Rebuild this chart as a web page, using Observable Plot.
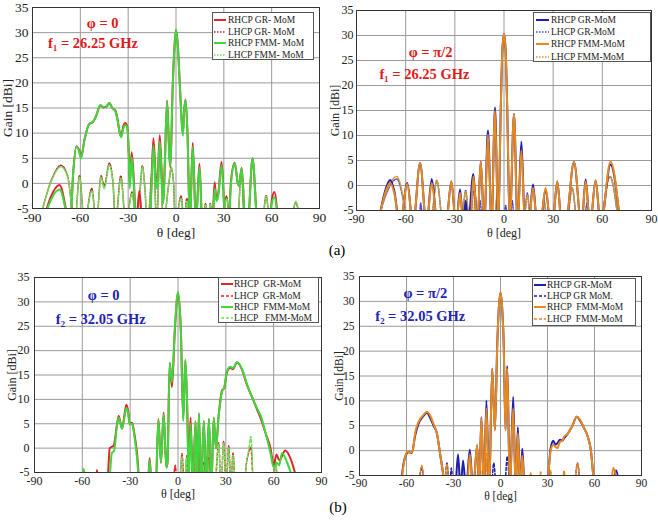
<!DOCTYPE html>
<html><head><meta charset="utf-8">
<script src="https://cdn.jsdelivr.net/npm/d3@7"></script>
<script src="https://cdn.jsdelivr.net/npm/@observablehq/plot@0.6"></script>
<style>
body{margin:0;background:#fff;}
#root{position:relative;width:658px;height:522px;overflow:hidden;background:#fff;font-family:"Liberation Serif","Times New Roman",serif;}
#root svg text{font-family:"Liberation Serif","Times New Roman",serif !important;}
.panel{position:absolute;}
.legend{position:absolute;background:#fff;border:1px solid #555;box-sizing:border-box;font-size:9.5px;color:#222;}
.legend .row{position:absolute;left:0;white-space:pre;line-height:10px;height:10px;}
.legend svg{position:absolute;top:2px;}
.legend span{position:absolute;top:0;}
.lab{position:absolute;font-size:15px;transform:translate(-50%,-50%);}
</style></head>
<body><div id="root"></div>
<script>
// ---------- axes ----------
const xTicks = [-90, -60, -30, 0, 30, 60, 90];
const yTicks = [-5, 0, 5, 10, 15, 20, 25, 30, 35];

// ---------- (a) phi = 0, f1 = 26.25 GHz ----------
const aL_rhcpGR = [[-84,-8],[-73,-0.3],[-66.3,-8],[-64.5,2],[-62.5,7.4],[-61,6.8],[-59.5,5.3],[-57.5,8.5],[-54.5,11.8],[-52,12.2],[-50,13.5],[-47.5,15.5],[-45.5,15.1],[-43.5,15.3],[-41.8,16],[-40,15],[-38,14.5],[-36.8,13],[-35.3,10.2],[-34.3,9.5],[-33,11.5],[-31.8,12],[-30.5,11.2],[-29.6,6],[-29,0],[-27.8,6.2],[-26.5,1],[-25,-8],[-23,-1.5],[-21,-8],[-16.5,-8],[-14.2,9],[-12.6,1],[-11.8,0],[-10.2,9.6],[-8.8,1],[-7.9,-3.5],[-7,4],[-5.6,16.5],[-4.2,6],[-3.5,3.2],[-2.2,18],[-1,27],[0,30.5],[1,28],[2.5,19],[3.8,11.5],[4.4,10],[5,14],[6,16.7],[7.2,10],[8.7,-8],[10.5,8.1],[12.5,-8],[14.7,3.9],[16.5,-8],[22.8,-8],[24.2,0.2],[25.3,-3],[26.5,-2],[28.6,4.3],[31,-8],[33,-8],[34.5,0.5],[36.8,4.1],[38.8,0],[39.5,-0.5],[41.2,3.1],[43.5,-8],[45,-8],[48,5],[51.2,-8],[58.5,-8],[60,-3.5],[61.7,-1.7],[64,-8]];
const aL_rhcpFMM = [[-84,-8],[-73,-1.2],[-66.3,-8],[-64.5,2],[-62.5,7.3],[-61,6.6],[-59.5,5],[-57.5,8.5],[-54.5,11.8],[-52,12.3],[-50,13.5],[-47.5,15.6],[-45.5,15.2],[-43.5,15.4],[-41.8,16],[-40,15],[-38,14.3],[-36.8,12.8],[-35.3,10],[-34.3,9.2],[-33,11],[-31.8,11.6],[-30.5,11],[-29.6,5.5],[-29,-1],[-27.8,5.2],[-26.5,0],[-25,-8],[-16.5,-8],[-14.2,7.5],[-12.6,0],[-11.8,-1],[-10.2,8.4],[-8.8,0],[-7.9,-4],[-7,4],[-5.6,16.3],[-4.2,5],[-3.5,3.5],[-2.2,18],[-1,27],[0,30.5],[1,28],[2.5,19],[3.8,11],[4.4,9.5],[5,14],[6,16.5],[7.2,10],[8.7,-8],[10.5,7.3],[12.5,-8],[14.7,3.2],[16.5,-8],[23,-8],[24.3,-1],[25.3,-3.5],[26.5,-2.5],[28.6,3.6],[31,-8],[33,-8],[34.5,0],[36.8,4],[38.8,0],[39.5,-0.5],[41.2,3],[43.5,-8],[45,-8],[48,5],[51.2,-8],[58.5,-8],[60,-4],[61.7,-2.8],[64,-8]];
const aL_lhcpGR = [[-86,-8],[-77,1.5],[-72.2,3.6],[-68,1.5],[-63.5,-8],[-60.5,1.6],[-57.5,-8],[-52.8,-1],[-50,-8],[-47,1.5],[-45,-0.5],[-41.8,4],[-39.5,0],[-38,-8],[-34.6,1.5],[-31.5,-8],[-27.5,-1.7],[-25,-8],[-22.5,-1],[-21.1,3.5],[-19.5,-1],[-18,-8],[-14,5],[-12.2,-8],[-10,6.5],[-8,-8],[-4.5,0],[-3,3],[-1.5,0],[-0.5,-8],[3.2,-2.5],[5,-8],[6.8,-3],[8.5,-8],[17,-8],[18.5,-4],[20,-8],[21.5,-4],[23,-8],[29,-8],[31.7,-2.5],[34,-8],[38.5,-8],[41,2.5],[43,-8],[54,-8],[56.5,-2.4],[59,-8],[72,-8],[75,-3.8],[78,-8]];
const aL_lhcpFMM = [[-86,-8],[-77,1.3],[-72.2,3.3],[-68,1.3],[-63.5,-8],[-60.5,1.2],[-57.5,-8],[-52.8,-1.5],[-50,-8],[-47,1.2],[-45,-1],[-41.8,3.6],[-39.5,0],[-38,-8],[-34.6,1],[-31.5,-8],[-27.5,-2],[-25,-8],[-22.5,-1.2],[-21.1,3.3],[-19.5,-1],[-18,-8],[-14,4.5],[-12.2,-8],[-10,6],[-8,-8],[-4.5,0],[-3,3.2],[-1.5,0],[-0.5,-8],[3.2,-3],[5,-8],[6.8,-3.5],[8.5,-8],[17,-8],[18.5,-4.3],[20,-8],[21.5,-4.2],[23,-8],[29,-8],[31.7,-3],[34,-8],[38.5,-8],[41,2.2],[43,-8],[54,-8],[56.5,-2.6],[59,-8],[72,-8],[75,-3.6],[78,-8]];

// ---------- (a) phi = pi/2, f1 = 26.25 GHz ----------
const aR_rhcpGR = [[-77,-8],[-72,-0.5],[-69.5,1.1],[-67,-1],[-63.5,-8],[-59,0.5],[-55.5,-8],[-51.2,4.5],[-47.3,-8],[-44.1,1.3],[-40.5,-8],[-35.5,-8],[-32.1,0.8],[-29.3,-8],[-26.8,-0.8],[-24.8,-8],[-23.4,-3],[-22,-8],[-18.7,2.3],[-16.2,-8],[-14.2,4.8],[-12,-8],[-9.8,11],[-7.6,-8],[-5.5,15.6],[-3.5,-8],[-2,15],[-1,27],[0,30.3],[1,27],[2,15],[3.5,-8],[6.1,14.3],[8.3,-8],[10.6,8.8],[12.8,-8],[15,-8],[17.7,0.2],[20.3,-8],[22,-8],[25.4,-0.8],[28.5,-8],[29.5,-8],[32.5,0.8],[35.3,-8],[37.5,-8],[42.7,4.7],[47.3,-8],[49.8,1.2],[52.5,-8],[55.9,1],[59,-8],[65,4.2],[71,-8]];
const aR_rhcpFMM = [[-77,-8],[-72,-1],[-69.5,0.5],[-67,-1.5],[-63.5,-8],[-59,0.3],[-55.5,-8],[-51.2,4.5],[-47.3,-8],[-44.1,0.5],[-40.5,-8],[-35.5,-8],[-32.1,0.8],[-29.3,-8],[-26.8,-1.5],[-24.8,-8],[-20.5,-8],[-18.7,1.8],[-16.2,-8],[-14.2,4.8],[-12,-8],[-9.8,10.2],[-7.6,-8],[-5.5,15],[-3.5,-8],[-2,15],[-1,27],[0,30.3],[1,27],[2,15],[3.5,-8],[6.1,14.3],[8.3,-8],[10.6,7],[12.8,-8],[15,-8],[17.7,-0.5],[20.3,-8],[22,-8],[25.4,-0.5],[28.5,-8],[29.5,-8],[32.5,0.8],[35.3,-8],[37.5,-8],[42.7,4.7],[47.3,-8],[49.8,0.8],[52.5,-8],[55.9,1],[59,-8],[65,4.8],[71,-8]];
const aR_lhcpGR = [[-78,-8],[-65.4,1.3],[-57,-8],[-52,-8],[-50.8,-3.5],[-49.5,-8],[-45,-8],[-41,1],[-37,-8],[-26,-8],[-23.4,-1],[-21,-8],[-18.3,-1],[-16,-8],[-14.6,-3],[-13,-8],[-6,-8],[-4,-2],[-2.5,-8],[-0.5,-8],[1,-4],[2.5,-8],[3.5,-8],[5,-3],[6.5,-8],[12,-8],[14.2,-1.5],[16.5,-8],[22.5,-8],[24.4,-3],[26.5,-8],[38,-8],[41.6,-0.5],[45,-8],[48.5,-8],[50.8,-3.5],[53,-8],[58,-8],[64.6,1.8],[70,-8]];
const aR_lhcpFMM = [[-78,-8],[-65.4,1.8],[-57,-8],[-45,-8],[-41,1],[-37,-8],[-26,-8],[-23.4,-1.2],[-21,-8],[-19,-8],[-17.5,-2],[-16,-8],[-6,-8],[-4,-1],[-2,-8],[12,-8],[14.2,-2],[16.5,-8],[22.5,-8],[24.4,-3],[26.5,-8],[38,-8],[41.6,-0.5],[45,-8],[58,-8],[64.6,1.8],[70,-8]];

// ---------- (b) phi = 0, f2 = 32.05 GHz ----------
const bL_rhcpGR = [[-52,-8],[-50.8,-4.5],[-49.5,-8],[-44.5,-8],[-42.8,0],[-40.3,0.5],[-38.2,5],[-37.2,6.6],[-35.1,4],[-33.5,7],[-32.4,8.9],[-31.2,7.5],[-30.3,5],[-28.8,5.2],[-27.4,3],[-25.7,-1],[-23.8,-8],[-19,-8],[-17.8,-2],[-16.5,-8],[-14,-8],[-12.3,6],[-10.7,-3],[-9,7.3],[-7.3,-4],[-6.6,-3],[-5.2,17.5],[-3.8,12.5],[-2,24],[0,31.8],[1.8,24],[3.3,6],[4.6,18],[5.8,8],[6.7,-4],[7.9,6.3],[9.3,-8],[11,5.5],[12,-8],[13.1,7],[14.5,-8],[16.2,5.5],[17.7,-8],[19.4,6],[20.9,-8],[22.4,6.2],[23.8,0],[25.5,6.7],[27.6,11.8],[29,12.3],[30.7,15.6],[32.8,16.5],[34.5,16.2],[37,17.6],[40,16.2],[43.2,13],[46.4,10.5],[49.5,8],[52,6],[55,3],[58,0],[60,-3.5],[61.8,-1.3],[63.5,-2.5],[67.3,-0.5],[71,-2.5],[75.6,-8]];
const bL_rhcpFMM = [[-61,-8],[-59.1,-4.3],[-57.5,-8],[-43.5,-8],[-41.5,-1],[-40,-0.5],[-38.5,4],[-37.2,6.3],[-35.1,4],[-33.5,6.5],[-32.4,8.3],[-31.2,7],[-30.3,4.8],[-28.8,5],[-27.4,2.5],[-25.7,-2],[-24,-8],[-19,-8],[-17.8,-2.5],[-16.5,-8],[-14,-8],[-12.3,5.8],[-10.7,-3],[-9,7],[-7.3,-4],[-6.6,-3],[-5.2,17.5],[-3.8,13.5],[-2,24.5],[0,32],[1.8,24],[3.3,5.5],[4.6,18.2],[5.8,8],[6.7,-8],[7.9,5],[9.3,-8],[11,5.5],[12,-8],[13.1,7.2],[14.5,-8],[16.2,5.6],[17.7,-8],[19.4,6],[20.9,-8],[22.4,6.3],[23.8,0],[25.5,6.5],[27.6,11.5],[29,12.5],[30.7,15.8],[32.8,16.7],[34.5,16.4],[37,17.6],[40,16.3],[43.2,13.2],[46.4,10.5],[49.5,8.2],[52,6.5],[55,3],[58,-1],[60,-4],[62,-3],[63.5,-3.5],[65.2,-1],[68.5,-3],[73.5,-8]];
const bL_lhcpGR = [[-3,-8],[-1.7,-3.5],[-0.5,-8],[1,-8],[2.5,-1.1],[4,-8],[4.5,-8],[5.6,-1.5],[6.8,-8],[8.5,-8],[9.8,-1],[11.2,-8],[12,-8],[13,-1.5],[14.2,-8],[15,-8],[16.1,-3],[17.3,-8],[18,-8],[19.2,-2],[20.5,-8],[23,-8],[25.5,1.1],[27,-8],[28.6,1.4],[30.2,-8],[31.8,0.5],[33.2,-8],[34.5,-1],[36,-8],[41,-8],[43.2,-2.5],[44.3,-1],[45.7,0.2],[47.5,-8],[59.5,-8],[61,-3],[62.5,-8]];
const bL_lhcpFMM = [[1,-8],[2.5,-1.8],[3.6,-8],[4.2,-8],[5.2,-2],[6.4,-8],[8.5,-8],[9.8,-1.5],[11.2,-8],[12,-8],[13,-2],[14.2,-8],[15,-8],[16.1,-3.5],[17.3,-8],[18,-8],[19.2,-2.5],[20.5,-8],[23,-8],[25.5,0.8],[27,-8],[28.6,1],[30.2,-8],[31.8,0],[33.2,-8],[34.5,-1.5],[36,-8],[41,-8],[43.2,-2.5],[44.3,-0.5],[45.7,2.4],[47.5,-8],[59.5,-8],[61,-2.5],[62.5,-8]];

// ---------- (b) phi = pi/2, f2 = 32.05 GHz ----------
const bR_rhcpGR = [[-64,-8],[-61.5,-2],[-60.5,-1],[-58.7,-0.3],[-56.6,-0.5],[-54.5,3],[-52.3,5.4],[-49.1,7],[-47,7.6],[-44.8,6.5],[-42.7,5],[-40.6,3.5],[-38.4,-1],[-36.7,-4.5],[-35.5,-8],[-29,-8],[-27.1,-0.8],[-25.5,-8],[-23.9,-2],[-22,-8],[-19.6,0.2],[-17.5,-8],[-14.9,1],[-13.6,-8],[-12.2,6.7],[-10.6,-8],[-9,10.1],[-7.2,-8],[-5.3,16.5],[-3.6,4.2],[-2,22],[-1,29],[0,31.8],[1,29],[2,22],[3.2,4.3],[4.3,17],[6,-8],[8.1,10.8],[9.7,-8],[11.1,4.7],[12.5,-8],[13.9,0.4],[15.5,-8],[29.9,-8],[31,-3],[32,0.5],[33.7,2],[35,1.2],[36.3,1.5],[38,2.2],[39.5,2],[40.6,2.5],[42.7,3.3],[45.9,5],[48.7,6.8],[50.8,6],[53.4,4.5],[55.5,3],[57.7,0],[59.2,-5],[60,-8],[71,-8],[73.7,-4],[76,-8]];
const bR_rhcpFMM = [[-64,-8],[-61,-1.5],[-59.5,-0.2],[-57.5,-0.5],[-56,0],[-54.5,3.5],[-52.3,5.8],[-49.1,7.2],[-47,7.8],[-44.8,7],[-42.7,5.3],[-40.6,3.5],[-38.4,-1],[-36.7,-4.5],[-35.5,-8],[-21.5,-8],[-19.6,-0.8],[-17.5,-8],[-14.9,1.2],[-13.6,-8],[-12.2,6.5],[-10.6,-8],[-9,8.5],[-7.2,-8],[-5.3,16.5],[-3.6,4],[-2,22],[-1,29],[0,31.8],[1,29],[2,22],[3.2,4],[4.3,16.5],[6,-8],[8.1,8.5],[9.7,-8],[11.1,3.5],[12.5,-8],[13.9,-1],[15.5,-8],[29.9,-8],[31,-3],[32,0],[33.7,1.2],[35,0.8],[36.3,0.5],[38,1.8],[39.5,2],[40.6,2.8],[42.7,3.3],[45.9,5],[48.7,6.8],[50.8,6.2],[53.4,4.5],[55.5,3],[57.7,0],[59.2,-5],[60,-8],[70,-8],[72,-3.5],[75,-8]];
const bR_lhcpGR = [[-52.5,-8],[-50.2,-3.5],[-48,-8],[-36,-8],[-34.2,-2.5],[-32.5,-8],[-31.4,-3.5],[-30,-8],[-6,-8],[-4.3,-2.5],[-2.5,-8],[2.5,-8],[4.3,-1.2],[6.2,-8],[8,-8],[9.6,-3.5],[11,-8],[47,-8],[49.1,-2.5],[51,-8]];
const bR_lhcpFMM = [[-52.5,-8],[-50.2,-3],[-48,-8],[-36,-8],[-34.2,-2.8],[-32.5,-8],[-12.5,-8],[-11,-1.5],[-10,-8],[-9.2,-0.5],[-8,-8],[17.5,-8],[19.2,-4.5],[21,-8],[24,-8],[25.6,-4.3],[27,-8],[30.5,-8],[32,-4],[33.5,-8],[39,-8],[40.6,-4],[42,-8],[47,-8],[49.1,-2.5],[51,-8]];

// ---------- texts ----------
const legendA1 = ["RHCP GR- MoM", "LHCP GR- MoM", "RHCP FMM- MoM", "LHCP FMM- MoM"];
const legendA2 = ["RHCP GR-MoM", "LHCP GR-MoM", "RHCP FMM-MoM", "LHCP FMM-MoM"];
const legendB1 = ["RHCP  GR-MoM", "LHCP  GR-MoM", "RHCP  FMM-MoM", "LHCP   FMM-MoM"];
const legendB2 = ["RHCP GR-MoM", "LHCP GR MoM.", "RHCP  FMM-MoM", "LHCP  FMM-MoM"];

const root = document.getElementById("root");

function makePanel(cfg) {
  const marks = [
    Plot.gridX(xTicks, {stroke: "#9a9a9a", strokeOpacity: 1, strokeWidth: 1}),
    Plot.gridY(yTicks, {stroke: "#9a9a9a", strokeOpacity: 1, strokeWidth: 1})
  ];
  for (const s of cfg.series) {
    marks.push(Plot.line(s.data, {
      x: d => d[0], y: d => d[1], stroke: s.color, strokeWidth: s.width,
      strokeDasharray: s.dash, curve: "monotone-x", clip: true
    }));
  }
  for (const a of cfg.notes) {
    marks.push(Plot.text([a], {x: d => d.x, y: d => d.y, text: d => d.t, fill: cfg.noteColor,
      fontWeight: "bold", fontSize: cfg.noteSize, textAnchor: "middle"}));
  }
  marks.push(Plot.frame({stroke: "#333", strokeWidth: 1}));
  const svg = Plot.plot({
    width: cfg.width, height: 240,
    marginLeft: cfg.ml, marginRight: cfg.mr, marginTop: cfg.mt, marginBottom: cfg.mb,
    style: {fontFamily: "'Liberation Serif', serif", fontSize: cfg.font + "px", color: "#222", background: "transparent", overflow: "visible"},
    x: {domain: [-90, 90], ticks: xTicks, tickSize: 0, tickPadding: cfg.xpad, label: "θ [deg]", labelAnchor: "center", labelOffset: cfg.xlo, labelArrow: "none", tickFormat: d => String(d)},
    y: {domain: [-5, 35], ticks: yTicks, tickSize: 0, tickPadding: cfg.ypad, label: "Gain [dBi]", labelAnchor: "center", labelOffset: cfg.ylo, labelArrow: "none", tickFormat: d => String(d)},
    marks
  });
  const div = document.createElement("div");
  div.className = "panel";
  div.style.left = cfg.left + "px";
  div.style.top = cfg.top + "px";
  div.appendChild(svg);
  root.appendChild(div);

  // legend box
  const lg = document.createElement("div");
  lg.className = "legend";
  Object.assign(lg.style, {left: cfg.lg.x + "px", top: cfg.lg.y + "px", width: cfg.lg.w + "px", height: cfg.lg.h + "px"});
  cfg.series.forEach((s) => {
    const row = document.createElement("div");
    row.className = "row";
    row.style.top = (cfg.lg.rows[s.li] - cfg.lg.y - 6) + "px";
    const ns = "http://www.w3.org/2000/svg";
    const sv = document.createElementNS(ns, "svg");
    sv.setAttribute("width", cfg.lg.lw); sv.setAttribute("height", 6);
    sv.style.left = cfg.lg.lx + "px";
    const ln = document.createElementNS(ns, "line");
    ln.setAttribute("x1", 0); ln.setAttribute("x2", cfg.lg.lw); ln.setAttribute("y1", 3); ln.setAttribute("y2", 3);
    ln.setAttribute("stroke", s.color); ln.setAttribute("stroke-width", s.width);
    if (s.dash) ln.setAttribute("stroke-dasharray", s.dash);
    sv.appendChild(ln);
    row.appendChild(sv);
    const sp = document.createElement("span");
    sp.style.left = cfg.lg.tx + "px";
    sp.textContent = cfg.labels[s.li];
    row.appendChild(sp);
    lg.appendChild(row);
  });
  root.appendChild(lg);
}

// colours
const RED = "#e4222a", GREEN = "#3cd83c", DKRED = "#b82424", LTGREEN = "#6fe05a";
const BLUE = "#1e1eb0", ORANGE = "#e8891c", LTBLUE = "#4a4ad0", GOLD = "#d09a30";

makePanel({
  left: 0, top: 0, width: 330, ml: 32, mr: 11, mt: 7, mb: 32, font: 13.5, xpad: 4, ypad: 4, xlo: 28, ylo: 30,
  series: [
    {data: aL_lhcpGR, color: DKRED, width: 1.5, dash: "1.5,1.5", li: 1},
    {data: aL_lhcpFMM, color: LTGREEN, width: 1.5, dash: "1.5,1.5", li: 3},
    {data: aL_rhcpGR, color: RED, width: 2, li: 0},
    {data: aL_rhcpFMM, color: GREEN, width: 2, li: 2}
  ],
  notes: [{x: -46, y: 31.8, t: "φ = 0"}, {x: -52, y: 27.8, t: "f₁ = 26.25 GHz"}],
  noteColor: "#e01a1a", noteSize: 14.5,
  labels: legendA1,
  lg: {x: 212, y: 12, w: 102, h: 48, rows: [20, 31.5, 43, 54.5], lx: 1, lw: 12, tx: 15}
});

makePanel({
  left: 330, top: 0, width: 328, ml: 26, mr: 7, mt: 10, mb: 30, font: 12, xpad: 4, ypad: 3, xlo: 26, ylo: 26,
  series: [
    {data: aR_lhcpGR, color: LTBLUE, width: 1.5, dash: "1.5,1.5", li: 1},
    {data: aR_lhcpFMM, color: GOLD, width: 1.5, dash: "1.5,1.5", li: 3},
    {data: aR_rhcpGR, color: BLUE, width: 2, li: 0},
    {data: aR_rhcpFMM, color: ORANGE, width: 2, li: 2}
  ],
  notes: [{x: -44.8, y: 26.6, t: "φ = π/2"}, {x: -48.5, y: 22.2, t: "f₁ = 26.25 GHz"}],
  noteColor: "#e01a1a", noteSize: 14.5,
  labels: legendA2,
  lg: {x: 533, y: 12, w: 118, h: 50, rows: [20, 32, 44, 56.5], lx: 2, lw: 13, tx: 17}
});

makePanel({
  left: 0, top: 260, width: 330, ml: 34, mr: 9, mt: 17, mb: 28, font: 12, xpad: 4, ypad: 5, xlo: 25, ylo: 27,
  series: [
    {data: bL_lhcpGR, color: RED, width: 1.5, dash: "3,2", li: 1},
    {data: bL_lhcpFMM, color: LTGREEN, width: 1.5, dash: "3,2", li: 3},
    {data: bL_rhcpGR, color: RED, width: 2, li: 0},
    {data: bL_rhcpFMM, color: GREEN, width: 2, li: 2}
  ],
  notes: [{x: -46.6, y: 31.4, t: "φ = 0"}, {x: -48.4, y: 26.4, t: "f₂ = 32.05 GHz"}],
  noteColor: "#2222b4", noteSize: 14.5,
  labels: legendB1,
  lg: {x: 218, y: 277, w: 101, h: 46, rows: [284, 295.5, 307, 318], lx: 2, lw: 12, tx: 15}
});

makePanel({
  left: 330, top: 260, width: 328, ml: 29, mr: 17, mt: 16, mb: 25, font: 11.5, xpad: 3, ypad: 5, xlo: 24, ylo: 25,
  series: [
    {data: bR_lhcpGR, color: BLUE, width: 1.5, dash: "3,2", li: 1},
    {data: bR_lhcpFMM, color: ORANGE, width: 1.5, dash: "3,2", li: 3},
    {data: bR_rhcpGR, color: BLUE, width: 2, li: 0},
    {data: bR_rhcpFMM, color: ORANGE, width: 2, li: 2}
  ],
  notes: [{x: -48, y: 31.6, t: "φ = π/2"}, {x: -51.2, y: 27, t: "f₂ = 32.05 GHz"}],
  noteColor: "#2222b4", noteSize: 14.5,
  labels: legendB2,
  lg: {x: 532, y: 278, w: 104, h: 48, rows: [285, 296, 307, 318.5], lx: 1, lw: 12, tx: 14}
});

for (const [t, x, y] of [["(a)", 337, 250], ["(b)", 338, 507]]) {
  const d = document.createElement("div");
  d.className = "lab";
  d.style.left = x + "px"; d.style.top = y + "px";
  d.textContent = t;
  root.appendChild(d);
}
</script>
</body></html>
